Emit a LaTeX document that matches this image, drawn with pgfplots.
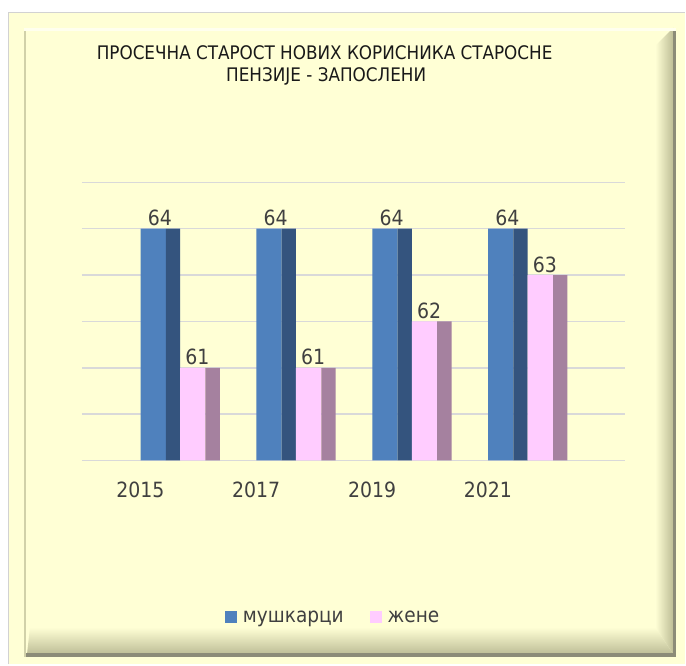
\documentclass[border=0pt]{standalone}
\usepackage{pgfplots}
\usepackage{pgfplotstable}
\pgfplotsset{compat=1.18}
\usepackage{fontspec}
\setmainfont{DejaVu Sans Condensed}
\definecolor{bgY}{HTML}{FFFFD5}
\definecolor{blueF}{HTML}{4F81BD}
\definecolor{blueS}{HTML}{34547E}
\definecolor{pinkF}{HTML}{FFCCFF}
\definecolor{pinkS}{HTML}{A5819F}
\definecolor{gridC}{HTML}{D9D9D9}
\definecolor{txt}{HTML}{404040}
\definecolor{bevD}{HTML}{BDBD96}
\definecolor{bevL}{HTML}{8C8C78}

\pgfplotstableread{
x m f
0 64 61
1 64 61
2 64 62
3 64 63
}\data

\begin{document}
\begin{tikzpicture}[x=1bp,y=1bp]
% background and frame (pixel (px,py) -> (px,665-py))
\fill[white] (0,0) rectangle (686,665);
\fill[bgY] (8,0) rectangle (686,653);
\draw[gray!35, line width=1.5bp] (8.75,0) -- (8.75,652.25) -- (686,652.25);
\fill[bgY] (24,7) rectangle (677,637);
\shade[left color=bgY, right color=bevD] (656,619) -- (674,637) -- (674,10) -- (656,37) -- cycle;
\shade[top color=bgY, bottom color=bevD] (30,37) -- (656,37) -- (674,10) -- (27,10) -- cycle;
\fill[bevL] (674,7) rectangle (677,637);
\fill[bevL] (24,7) rectangle (677,11);
\fill[bevD!70!bgY] (24,7) rectangle (26.5,637);
\fill[white!60!bgY] (24,634) rectangle (677,637);
% title
\node[font=\fontsize{18.7bp}{22bp}\selectfont, text=black!90] at (325,612) {ПРОСЕЧНА СТАРОСТ НОВИХ КОРИСНИКА СТАРОСНЕ};
\node[font=\fontsize{18.7bp}{22bp}\selectfont, text=black!90] at (326.5,588) {ПЕНЗИЈЕ - ЗАПОСЛЕНИ};
\begin{axis}[
  at={(82bp,204bp)}, anchor=south west,
  scale only axis, width=544bp, height=278.5bp,
  xmin=-0.5043, xmax=4.1853, ymin=59, ymax=65,
  axis line style={draw=none},
  major tick length=0pt,
  ytick={59,60,...,65}, yticklabels={},
  ymajorgrids, grid style={gridC, line width=1.5bp},
  xtick={0,1,2,3}, xticklabels={2015,2017,2019,2021},
  xticklabel style={anchor=base, yshift=-37bp, font=\fontsize{21bp}{25bp}\selectfont, text=txt},
  /pgf/number format/assume math mode=true,
  legend style={at={(0.4623,-0.5637)}, anchor=center, draw=none, fill=none,
    legend columns=2, font=\fontsize{20.6bp}{24bp}\selectfont, text=txt,
    /tikz/every even column/.append style={column sep=24bp}},
  clip=true,
]
\addplot[ybar, bar width=0.218, bar shift=0.1108, fill=blueF, draw=none,
  nodes near coords, nodes near coords style={anchor=base, xshift=19.5bp, yshift=3bp, font=\fontsize{21bp}{25bp}\selectfont, text=txt},
  legend image code/.code={\fill[blueF] (0bp,-6bp) rectangle (12bp,6bp); \path (16bp,0bp);}]
  table[x=x, y=m] {\data};
\addlegendentry{мушкарци}
\addplot[ybar, bar width=0.1233, bar shift=0.2815, fill=blueS, draw=none, forget plot]
  table[x=x, y=m] {\data};
\addplot[ybar, bar width=0.219, bar shift=0.4526, fill=pinkF, draw=none,
  nodes near coords, nodes near coords style={anchor=base, xshift=57bp, yshift=3bp, font=\fontsize{21bp}{25bp}\selectfont, text=txt},
  legend image code/.code={\fill[pinkF] (0bp,-6bp) rectangle (12bp,6bp); \path (16bp,0bp);}]
  table[x=x, y=f] {\data};
\addlegendentry{жене}
\addplot[ybar, bar width=0.1233, bar shift=0.6237, fill=pinkS, draw=none, forget plot]
  table[x=x, y=f] {\data};
\end{axis}
\end{tikzpicture}
\end{document}
